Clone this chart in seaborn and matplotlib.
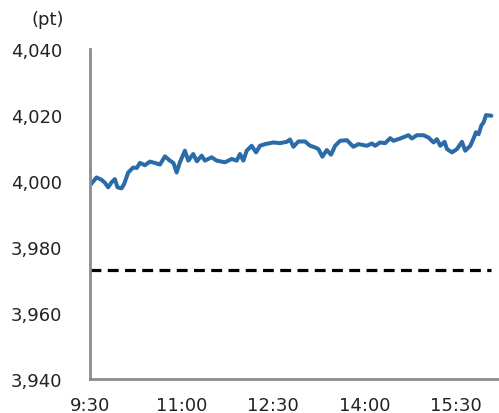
import matplotlib
matplotlib.use("Agg")
import matplotlib.pyplot as plt
import seaborn as sns
import pandas as pd

# minutes since 9:30
minutes = [1.0, 6.6, 11.5, 14.8, 18.0, 21.3, 24.6, 27.2, 31.2, 33.7, 37.7, 42.6, 46.2, 49.2,
           54.1, 59.0, 63.9, 68.9, 73.8, 78.7, 82.1, 85.3, 88.5, 93.4, 96.7, 101.6, 105.2,
           109.9, 113.1, 119.7, 124.6, 132.8, 139.4, 144.3, 147.5, 150.8, 154.1, 159.0, 163.3,
           167.2, 172.1, 180.3, 186.9, 193.5, 196.7, 200.0, 204.9, 211.5, 216.4, 221.3, 224.6,
           228.5, 232.8, 237.0, 241.0, 245.9, 252.5, 259.0, 263.9, 272.2, 277.1, 280.3, 285.2,
           290.2, 295.1, 298.3, 304.9, 313.1, 316.4, 321.3, 327.8, 332.7, 337.7, 341.0, 344.3,
           348.5, 350.9, 355.8, 360.7, 365.6, 368.8, 373.8, 377.0, 379.4, 382.0, 384.6, 386.9,
           389.3, 394.5]
values = [3999.0, 4001.1, 4000.4, 3999.5, 3998.1, 3999.6, 4000.6, 3998.1, 3997.8, 3999.1,
          4002.6, 4004.1, 4004.0, 4005.5, 4004.8, 4005.9, 4005.5, 4005.0, 4007.5, 4006.2,
          4005.5, 4002.6, 4005.7, 4009.2, 4006.2, 4008.2, 4006.0, 4007.7, 4006.2, 4007.2,
          4006.2, 4005.7, 4006.7, 4006.2, 4008.2, 4006.2, 4009.2, 4010.7, 4008.7, 4010.7,
          4011.2, 4011.7, 4011.5, 4011.9, 4012.6, 4010.4, 4012.0, 4012.0, 4010.7, 4010.2,
          4009.7, 4007.4, 4009.4, 4008.0, 4010.7, 4012.2, 4012.4, 4010.4, 4011.2, 4010.7,
          4011.4, 4010.7, 4011.7, 4011.5, 4013.0, 4012.2, 4012.9, 4013.9, 4012.9, 4013.9,
          4013.9, 4013.2, 4011.7, 4012.7, 4010.7, 4011.9, 4009.7, 4008.7, 4009.7, 4011.9,
          4009.2, 4010.7, 4012.9, 4014.8, 4014.2, 4016.8, 4017.8, 4020.0, 4019.8]
reference_level = 3973
x_ticks = [0, 90, 180, 270, 360]
x_tick_labels = ["9:30", "11:00", "12:30", "14:00", "15:30"]
y_ticks = [3940, 3960, 3980, 4000, 4020, 4040]
y_tick_labels = ["3,940", "3,960", "3,980", "4,000", "4,020", "4,040"]

sns.set_style("white")
plt.rcParams['font.family'] = ['DejaVu Sans']

df = pd.DataFrame({"t": minutes, "v": values})
end_t = df["t"].max()

fig = plt.figure(figsize=(4.99, 4.14), dpi=100)
ax = fig.add_axes([0.180, 0.082, 0.820, 0.797])

sns.lineplot(data=df, x="t", y="v", ax=ax, color="#2B6BA8", linewidth=2.9, sort=False)
ax.plot([0, end_t], [reference_level, reference_level], color="black", linewidth=2.3,
        linestyle=(0, (3.4, 2.0)))

ax.set_xlim(0, 402)
ax.set_ylim(3940, 4040)
ax.set_xticks(x_ticks)
ax.set_xticklabels(x_tick_labels)
ax.set_yticks(y_ticks)
ax.set_yticklabels(y_tick_labels)
ax.set_xlabel("")
ax.set_ylabel("")

for s in ["top", "right"]:
    ax.spines[s].set_visible(False)
for s in ["left", "bottom"]:
    ax.spines[s].set_color("#8c8c8c")
    ax.spines[s].set_linewidth(2)

ax.tick_params(axis="both", which="both", direction="out", color="#8c8c8c", width=2,
               labelsize=13, labelcolor="#222222")
ax.tick_params(axis="y", length=5, pad=15)
ax.tick_params(axis="x", length=5, pad=7)

fig.text(48 / 499, 1 - 20 / 414, "(pt)", ha="center", va="center", fontsize=13, color="#222222")

fig.savefig("out.png", dpi=100)
